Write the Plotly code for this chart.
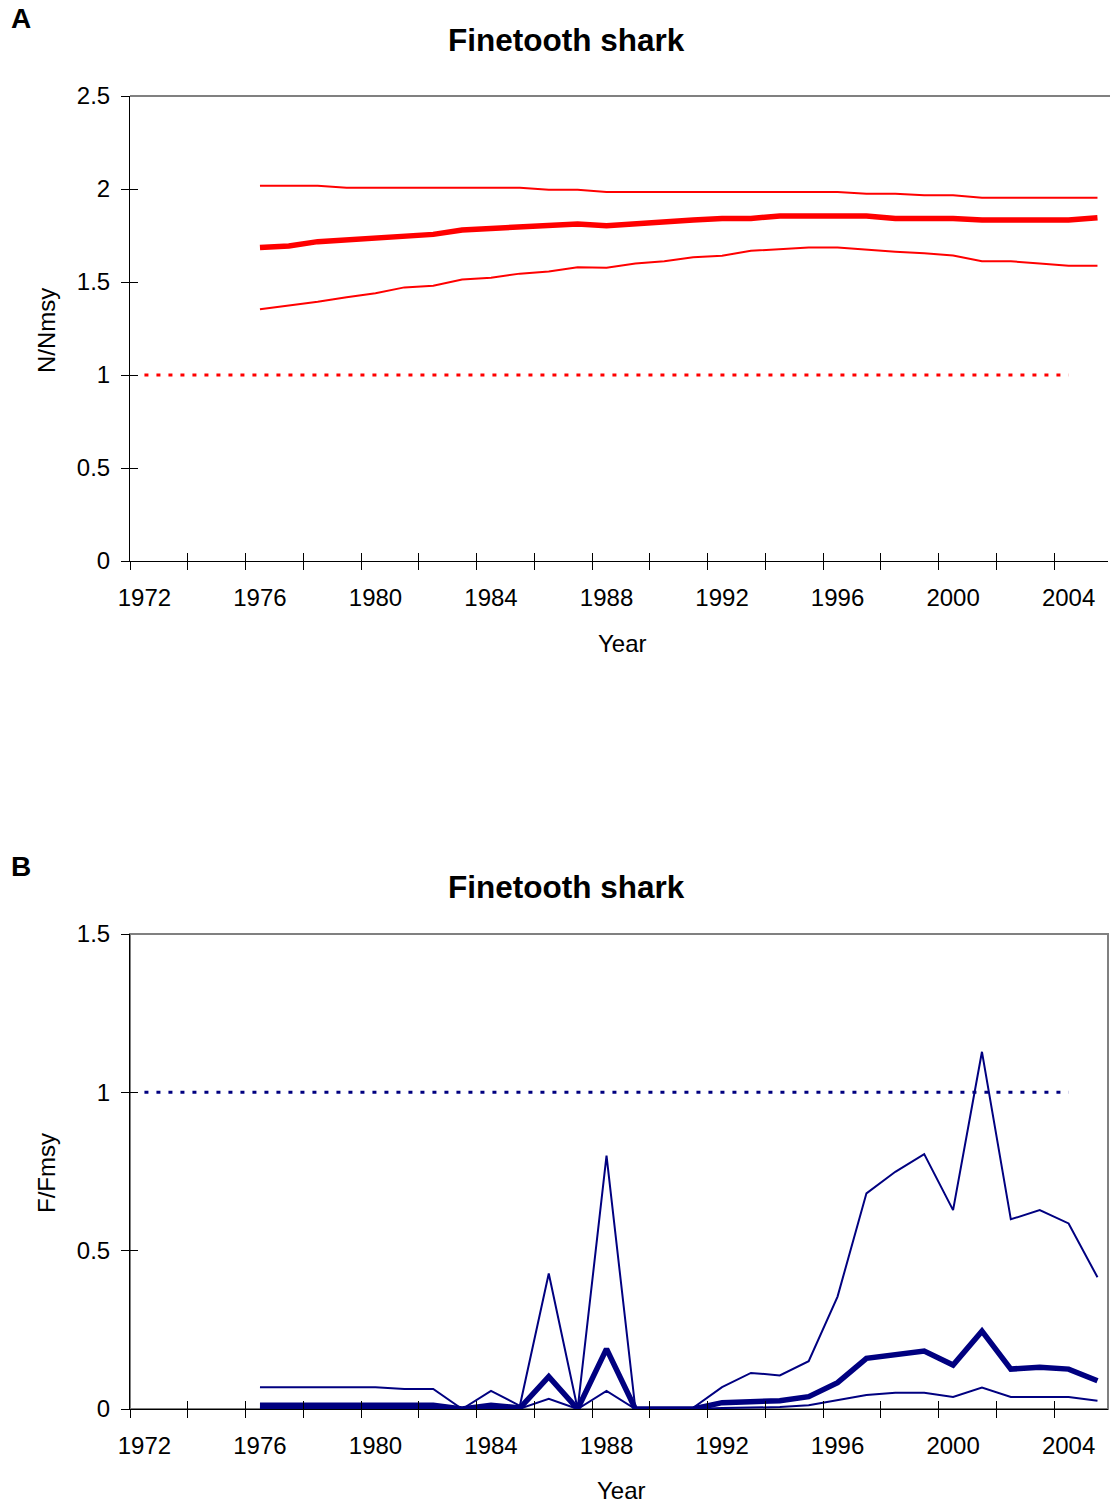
import plotly.graph_objects as go

# ---------------- data ----------------
years = list(range(1976, 2006))
ref_years = list(range(1972, 2005))
ref_value = [1.0] * len(ref_years)

nn_upper = [2.018, 2.018, 2.018, 2.007, 2.007, 2.007, 2.007, 2.007, 2.007, 2.007,
            1.996, 1.996, 1.984, 1.984, 1.984, 1.984, 1.984, 1.984, 1.984, 1.984,
            1.984, 1.975, 1.975, 1.966, 1.966, 1.953, 1.953, 1.953, 1.953, 1.953]
nn_mid = [1.685, 1.694, 1.717, 1.726, 1.735, 1.744, 1.756, 1.780, 1.788, 1.801,
          1.803, 1.812, 1.803, 1.815, 1.824, 1.833, 1.842, 1.842, 1.855, 1.855,
          1.855, 1.855, 1.842, 1.842, 1.842, 1.833, 1.833, 1.833, 1.833, 1.846]
nn_low = [1.353, 1.373, 1.394, 1.418, 1.439, 1.471, 1.480, 1.514, 1.523, 1.545,
          1.557, 1.579, 1.577, 1.600, 1.612, 1.633, 1.641, 1.668, 1.676, 1.685,
          1.685, 1.672, 1.663, 1.654, 1.643, 1.611, 1.611, 1.600, 1.588, 1.588]

ff_upper = [0.069, 0.069, 0.069, 0.069, 0.069, 0.063, 0.063, 0.0, 0.057, 0.010,
            0.428, 0.0, 0.800, 0.0, 0.0, 0.004, 0.069, 0.114, 0.106, 0.151,
            0.355, 0.681, 0.749, 0.805, 0.628, 1.128, 0.599, 0.628, 0.586, 0.416]
ff_mid = [0.012, 0.012, 0.012, 0.012, 0.012, 0.012, 0.012, 0.0, 0.012, 0.003,
          0.102, 0.0, 0.190, 0.0, 0.0, 0.0, 0.020, 0.025, 0.026, 0.039,
          0.083, 0.160, 0.170, 0.183, 0.139, 0.246, 0.126, 0.132, 0.126, 0.089]
ff_low = [0.003, 0.003, 0.003, 0.003, 0.003, 0.003, 0.003, 0.0, 0.004, 0.001,
          0.032, 0.0, 0.057, 0.0, 0.0, 0.0, 0.003, 0.004, 0.006, 0.012,
          0.028, 0.044, 0.051, 0.051, 0.038, 0.068, 0.038, 0.038, 0.038, 0.026]

x_labels = list(range(1972, 2005, 4))
x_tickmarks = [1971.5 + 2 * i for i in range(18)]
yA_ticks = [0, 0.5, 1, 1.5, 2, 2.5]
yB_ticks = [0, 0.5, 1, 1.5]

title_text = "Finetooth shark"
RED = "#FF0000"
NAVY = "#000080"
FONT = "Liberation Sans, Arial, sans-serif"

W, H = 1110, 1507
ML, MR, MT, MB = 130, 2, 96, 98
PW = W - ML - MR
PH = H - MT - MB


def px(xp):
    return (xp - ML) / PW


def py(yp):
    return (H - MB - yp) / PH


domA = [py(561), 1.0]
domB = [0.0, py(934)]
# category width in the reference is ~28.9 px; plot area ends slightly before last slot edge
xr = [1971.5, 1971.5 + PW / 28.88]

fig = go.Figure()

# Panel A
fig.add_trace(go.Scatter(x=years, y=nn_upper, mode="lines", line=dict(color=RED, width=2),
                         xaxis="x", yaxis="y", showlegend=False))
fig.add_trace(go.Scatter(x=years, y=nn_low, mode="lines", line=dict(color=RED, width=2),
                         xaxis="x", yaxis="y", showlegend=False))
fig.add_trace(go.Scatter(x=years, y=nn_mid, mode="lines", line=dict(color=RED, width=5.5),
                         xaxis="x", yaxis="y", showlegend=False))
fig.add_trace(go.Scatter(x=ref_years, y=ref_value, mode="lines",
                         line=dict(color=RED, width=3, dash="4px,8px"),
                         xaxis="x3", yaxis="y3", showlegend=False))

# Panel B
fig.add_trace(go.Scatter(x=years, y=ff_upper, mode="lines", line=dict(color=NAVY, width=2),
                         xaxis="x2", yaxis="y2", showlegend=False))
fig.add_trace(go.Scatter(x=years, y=ff_low, mode="lines", line=dict(color=NAVY, width=2),
                         xaxis="x2", yaxis="y2", showlegend=False))
fig.add_trace(go.Scatter(x=years, y=ff_mid, mode="lines", line=dict(color=NAVY, width=5.5),
                         xaxis="x2", yaxis="y2", showlegend=False))
fig.add_trace(go.Scatter(x=ref_years, y=ref_value, mode="lines",
                         line=dict(color=NAVY, width=3, dash="4px,8px"),
                         xaxis="x4", yaxis="y4", showlegend=False))

tickfont = dict(family=FONT, size=24, color="black")


def main_x(anchor, domain_y):
    return dict(range=xr, domain=[0, 1], anchor=anchor, showgrid=False, zeroline=False,
                showline=True, linecolor="black", linewidth=1,
                tickmode="array", tickvals=x_labels, ticktext=[str(v) for v in x_labels],
                ticks="", tickfont=tickfont, ticklabelstandoff=15,
                minor=dict(tickmode="array", tickvals=x_tickmarks, ticks="outside",
                           ticklen=8, tickcolor="black", tickwidth=1, showgrid=False))


def over_x(over, anchor):
    return dict(range=xr, overlaying=over, anchor=anchor, showgrid=False, zeroline=False,
                showline=False, tickmode="array", tickvals=x_tickmarks, ticks="inside",
                ticklen=8, tickcolor="black", tickwidth=1, showticklabels=False)


def main_y(anchor, dom, rng, tv):
    return dict(range=rng, domain=dom, anchor=anchor, showgrid=False, zeroline=False,
                showline=True, linecolor="black", linewidth=1,
                tickmode="array", tickvals=tv, ticktext=[("%g" % v) for v in tv],
                ticks="outside", ticklen=8, tickcolor="black", tickwidth=1,
                tickfont=tickfont, ticklabelstandoff=6)


def over_y(over, anchor, rng, tv):
    return dict(range=rng, overlaying=over, anchor=anchor, showgrid=False, zeroline=False,
                showline=False, tickmode="array", tickvals=tv, ticks="inside",
                ticklen=8, tickcolor="black", tickwidth=1, showticklabels=False)


fig.update_layout(
    width=W, height=H,
    margin=dict(l=ML, r=MR, t=MT, b=MB),
    paper_bgcolor="white", plot_bgcolor="white",
    font=dict(family=FONT, color="black"),
    xaxis=main_x("y", domA),
    yaxis=main_y("x", domA, [0, 2.5], yA_ticks),
    xaxis3=over_x("x", "y3"),
    yaxis3=over_y("y", "x3", [0, 2.5], yA_ticks),
    xaxis2=main_x("y2", domB),
    yaxis2=main_y("x2", domB, [0, 1.5], yB_ticks),
    xaxis4=over_x("x2", "y4"),
    yaxis4=over_y("y2", "x4", [0, 1.5], yB_ticks),
)

# plot-area border: panel A only the grey top edge is visible, panel B top and right
fig.add_shape(type="line", xref="x domain", yref="y domain", x0=0, x1=1.01, y0=1, y1=1,
              line=dict(color="#808080", width=2), layer="below")
fig.add_shape(type="rect", xref="x2 domain", yref="y2 domain", x0=0, x1=1, y0=0, y1=1,
              line=dict(color="#808080", width=2), layer="below")

ann = []
titlefont = dict(family=FONT, size=31.5, color="black", weight="bold")
labfont = dict(family=FONT, size=24, color="black")
ann.append(dict(text=title_text, x=px(566), y=py(40), font=titlefont))
ann.append(dict(text=title_text, x=px(566), y=py(887), font=titlefont))
ann.append(dict(text="A", x=px(9), y=py(19), xanchor="left",
                font=dict(family=FONT, size=28, color="black", weight="bold")))
ann.append(dict(text="B", x=px(9), y=py(866), xanchor="left",
                font=dict(family=FONT, size=28, color="black", weight="bold")))
ann.append(dict(text="Year", x=px(622), y=py(643), font=labfont))
ann.append(dict(text="Year", x=px(621), y=py(1490), font=labfont))
ann.append(dict(text="N/Nmsy", x=px(46), y=py(331), textangle=-90, font=labfont))
ann.append(dict(text="F/Fmsy", x=px(46), y=py(1173), textangle=-90, font=labfont))
for a in ann:
    a.setdefault("xanchor", "center")
    a["yanchor"] = "middle"
    a["xref"] = "paper"
    a["yref"] = "paper"
    a["showarrow"] = False
fig.update_layout(annotations=ann)

fig.write_html("out.html")
